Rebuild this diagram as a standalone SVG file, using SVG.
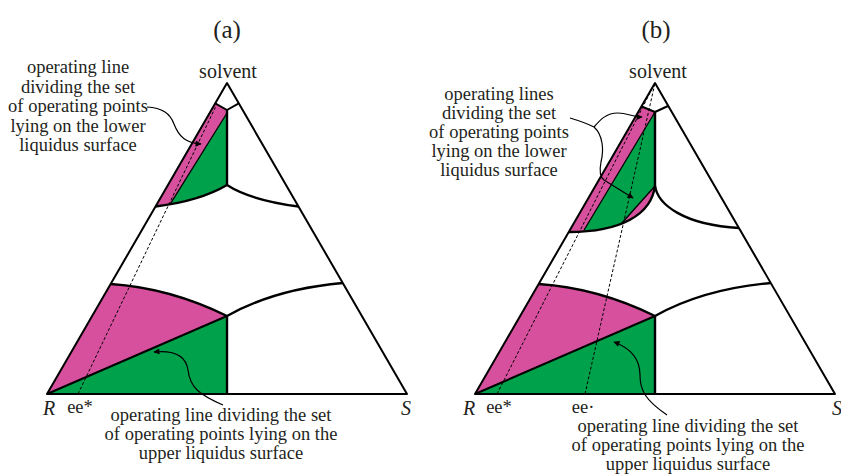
<svg xmlns="http://www.w3.org/2000/svg" width="841" height="476" viewBox="0 0 841 476">
<defs>
<style>
.t{font-family:"Liberation Serif","Times New Roman",serif;font-size:18.5px;fill:#231f20;text-anchor:middle}
.ttl{font-size:25px}
.it{font-style:italic;font-size:20px;text-anchor:start}
.pk{fill:#d6509e}
.gr{fill:#00a14b}
.ln{fill:none;stroke:#000;stroke-width:2;stroke-linejoin:round}
.bd{fill:none;stroke:#000;stroke-width:2.4}
.th{fill:none;stroke:#000;stroke-width:1.3}
.ds{fill:none;stroke:#000;stroke-width:1;stroke-dasharray:3 2}
.ar{fill:none;stroke:#000;stroke-width:1.2}
.ae{marker-end:url(#ah)}
</style>
<marker id="ah" viewBox="0 0 10 10" refX="9" refY="5" markerWidth="8" markerHeight="6" markerUnits="userSpaceOnUse" orient="auto"><path d="M0,0 L10,5 L0,10 Z" fill="#000"/></marker>
<clipPath id="ca"><path d="M215.2,103.3 L227,110 L227,185 Q200,201 155.5,206.5 Z"/></clipPath>
<clipPath id="cb"><path d="M641.7,106.5 L655,112 L655,185 C652,215 620,232 569,232 Z"/></clipPath>
</defs>
<rect width="841" height="476" fill="#fff"/>

<g id="panel-a">
  <g id="a-regions">
    <path class="pk" d="M215.2,103.3 L227,110 L227,185 Q200,201 155.5,206.5 Z"/>
    <polygon class="gr" points="227,113 240,113 240,225 157.2,225" clip-path="url(#ca)"/>
    <path class="pk" d="M47,394 L110.7,284 Q170,288 227,316 Z"/>
    <polygon class="gr" points="47,394 227,316 227,394"/>
  </g>
  <g id="a-lines">
    <polygon class="ln" points="47,394 407,394 227,83"/>
    <polyline class="ln" points="215.2,103.3 227,110 238.8,103.3"/>
    <line class="bd" x1="227" y1="110" x2="227" y2="185"/>
    <path class="bd" d="M155.5,206.5 Q200,201 227,185 Q250,200 298.5,206.5"/>
    <line class="th" x1="227" y1="113" x2="170" y2="204.3"/>
    <path class="bd" d="M110.7,284 Q170,288 227,316 Q275,289 342.8,283"/>
    <line class="bd" x1="227" y1="316" x2="227" y2="394"/>
    <line class="ln" x1="47" y1="394" x2="227" y2="316"/>
    <line class="ds" x1="78" y1="394" x2="216" y2="106"/>
  </g>
  <g id="a-labels">
    <text class="t ttl" x="227" y="38">(a)</text>
    <text class="t" x="228" y="78" style="font-size:20px">solvent</text>
    <text class="t" x="78" y="73">operating line</text>
    <text class="t" x="78" y="92.5">dividing the set</text>
    <text class="t" x="78" y="112">of operating points</text>
    <text class="t" x="78" y="131.5">lying on the lower</text>
    <text class="t" x="78" y="151">liquidus surface</text>
    <text class="t it" x="43" y="415">R</text>
    <text class="t" x="80" y="413">ee*</text>
    <text class="t it" x="401" y="415">S</text>
    <text class="t" x="221" y="421">operating line dividing the set</text>
    <text class="t" x="221" y="440">of operating points lying on the</text>
    <text class="t" x="221" y="459">upper liquidus surface</text>
  </g>
</g>

<g id="panel-b">
  <g id="b-regions">
    <path class="pk" d="M641.7,106.5 L655,112 L655,185 C652,215 620,232 569,232 Z"/>
    <polygon class="gr" points="655,112 655,186 599.3,250 572,250" clip-path="url(#cb)"/>
    <path class="pk" d="M475,394 L538.7,284 Q598,288 655,316 Z"/>
    <polygon class="gr" points="475,394 655,316 655,394"/>
  </g>
  <g id="b-lines">
    <polygon class="ln" points="475,394 835,394 655,83"/>
    <polyline class="ln" points="641.7,106.5 655,112 668,106"/>
    <line class="bd" x1="655" y1="112" x2="655" y2="185"/>
    <path class="bd" d="M569,232 C620,232 652,215 655,185 C657,205 685,225 739,228"/>
    <line class="th" x1="655" y1="112" x2="584.1" y2="230"/>
    <line class="th" x1="655" y1="186" x2="621" y2="224"/>
    <path class="bd" d="M538.7,284 Q598,288 655,316 Q703,289 770.8,283"/>
    <line class="bd" x1="655" y1="316" x2="655" y2="394"/>
    <line class="ln" x1="475" y1="394" x2="655" y2="316"/>
    <line class="ds" x1="497" y1="394" x2="655" y2="83"/>
    <line class="ds" x1="585" y1="394" x2="655" y2="83"/>
  </g>
  <g id="b-labels">
    <text class="t ttl" x="656" y="38">(b)</text>
    <text class="t" x="658" y="78" style="font-size:20px">solvent</text>
    <text class="t" x="499" y="100">operating lines</text>
    <text class="t" x="499" y="119">dividing the set</text>
    <text class="t" x="499" y="138">of operating points</text>
    <text class="t" x="499" y="157">lying on the lower</text>
    <text class="t" x="499" y="176">liquidus surface</text>
    <text class="t it" x="463" y="415">R</text>
    <text class="t" x="499" y="413">ee*</text>
    <text class="t" x="583" y="413">ee·</text>
    <text class="t it" x="832" y="415">S</text>
    <text class="t" x="688" y="432">operating line dividing the set</text>
    <text class="t" x="688" y="451">of operating points lying on the</text>
    <text class="t" x="688" y="470">upper liquidus surface</text>
  </g>
</g>

<g id="connectors">
  <path class="ar ae" d="M147,107 C162,108 170,113 174,124 C179,137 186,143 201,144"/>
  <path class="ar ae" d="M223,405 C200,395 190,388 188,370 C186,356 175,350 154,352"/>
  <path class="ar" d="M570,118 C580,121 588,124 594,127"/>
  <path class="ar ae" d="M594,127 C600,120 606,113 618,113 C628,113 632,117 642,117"/>
  <path class="ar ae" d="M594,127 C603,135 604,150 601,162 C599,172 600,177 604,180 L633,198"/>
  <path class="ar ae" d="M667,415 C645,400 640,390 640,375 C640,358 630,348 614,342"/>
</g>
</svg>
